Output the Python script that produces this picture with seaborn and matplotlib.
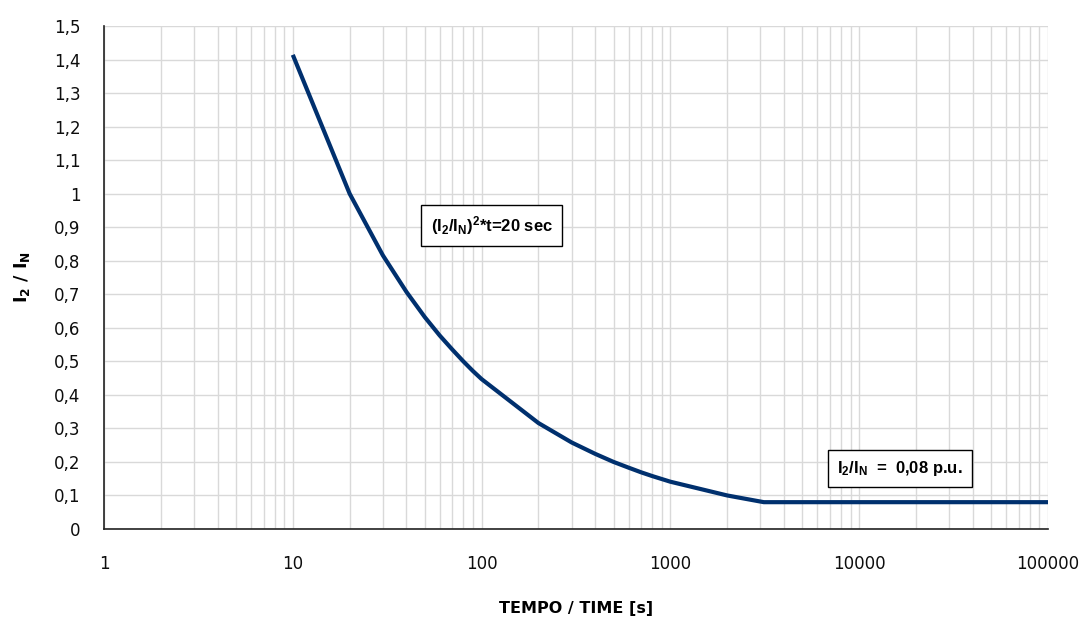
import matplotlib
matplotlib.use("Agg")
import matplotlib.pyplot as plt
from matplotlib.ticker import FixedLocator, LogLocator, NullFormatter
import pandas as pd
import seaborn as sns

# Negative-sequence current capability: (I2/IN)^2 * t = 20 s, floor at 0.08 p.u.
time_s = [10, 20, 30, 40, 50, 60, 70, 80, 90, 100,
          200, 300, 400, 500, 600, 700, 800, 900, 1000,
          2000, 3125, 100000]
i2_in = [1.414, 1.000, 0.816, 0.707, 0.632, 0.577, 0.535, 0.500, 0.471, 0.447,
         0.316, 0.258, 0.224, 0.200, 0.183, 0.169, 0.158, 0.149, 0.141,
         0.100, 0.080, 0.080]

x_ticks = [1, 10, 100, 1000, 10000, 100000]
x_tick_labels = ["1", "10", "100", "1000", "10000", "100000"]
y_ticks = [round(0.1 * k, 1) for k in range(16)]
y_tick_labels = [f"{v:g}".replace(".", ",") for v in y_ticks]

sns.set_style("white")
plt.rcParams["font.family"] = ["DejaVu Sans"]
plt.rcParams["text.color"] = "black"
plt.rcParams["axes.labelcolor"] = "black"

df = pd.DataFrame({"t": time_s, "i": i2_in})

fig = plt.figure(figsize=(10.85, 6.17), dpi=100)
ax = fig.add_axes([104 / 1085, 1 - 529 / 617, (1048 - 104) / 1085, (529 - 26) / 617])

ax.set_xscale("log")
ax.set_xlim(1, 100000)
ax.set_ylim(0, 1.5)

ax.xaxis.set_major_locator(FixedLocator(x_ticks))
ax.set_xticklabels(x_tick_labels)
ax.xaxis.set_minor_locator(LogLocator(base=10, subs=range(2, 10), numticks=20))
ax.xaxis.set_minor_formatter(NullFormatter())
ax.set_yticks(y_ticks)
ax.set_yticklabels(y_tick_labels)

ax.grid(which="major", axis="both", color="#d9d9d9", linewidth=1.0)
ax.grid(which="minor", axis="x", color="#d9d9d9", linewidth=1.0)
ax.set_axisbelow(True)

sns.lineplot(data=df, x="t", y="i", ax=ax, color="#00306e", linewidth=3.0,
             solid_capstyle="butt", zorder=3)

for side in ("top", "right"):
    ax.spines[side].set_visible(False)
for side in ("left", "bottom"):
    ax.spines[side].set_color("#222222")
    ax.spines[side].set_linewidth(1.2)

ax.tick_params(axis="both", which="major", direction="out", length=6, width=1.2,
               color="#333333", labelsize=12, labelcolor="#0d0d0d")
ax.tick_params(axis="y", which="major", pad=11)
ax.tick_params(axis="x", which="major", pad=13)
ax.tick_params(axis="x", which="minor", length=0)

ax.set_xlabel("TEMPO / TIME [s]", fontsize=11.5, fontweight="bold", labelpad=20)
ax.set_ylabel(r"$\mathdefault{I_2}$ / $\mathdefault{I_N}$", fontsize=12.5,
              fontweight="bold", labelpad=16)

box = dict(boxstyle="square,pad=0.55", facecolor="white", edgecolor="black", linewidth=1.0)
ax.text(113, 0.905, r"$\mathdefault{(I_2/I_N)^2}$*t=20 sec", fontsize=12,
        family="Liberation Sans", fontweight="bold", color="black",
        ha="center", va="center", bbox=box, zorder=5)
ax.text(16500, 0.18, r"$\mathdefault{I_2/I_N}$  =  0,08 p.u.", fontsize=12,
        family="Liberation Sans", fontweight="bold", color="black",
        ha="center", va="center", bbox=box, zorder=5)

fig.savefig("out.png", dpi=100)
